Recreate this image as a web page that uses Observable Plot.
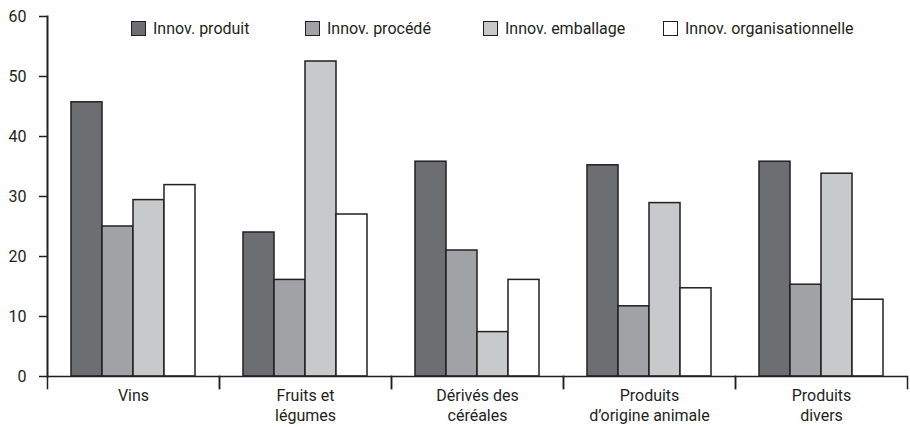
<!DOCTYPE html>
<html>
<head>
<meta charset="utf-8">
<script src="https://cdn.jsdelivr.net/npm/d3@7"></script>
<script src="https://cdn.jsdelivr.net/npm/@observablehq/plot@0.6"></script>
<style>
  html, body { margin: 0; padding: 0; background: #fff; }
  #wrap { position: relative; width: 910px; height: 427px; font-family: Roboto, "Open Sans", sans-serif; color: #231f20; }
  #legend { position: absolute; top: 19px; left: 131px; display: flex; font-size: 16px; }
  .item { display: flex; align-items: center; height: 19px; }
  .sw { width: 13px; height: 13px; border: 1.5px solid #231f20; margin-right: 7px; box-sizing: content-box; }
</style>
</head>
<body>
<div id="wrap"><div id="legend"></div></div>
<script>
const categories = ["Vins", "Fruits et légumes", "Dérivés des céréales", "Produits d’origine animale", "Produits divers"];
const categoryLabels = ["Vins", "Fruits et\nlégumes", "Dérivés des\ncéréales", "Produits\nd’origine animale", "Produits\ndivers"];
const series = ["Innov. produit", "Innov. procédé", "Innov. emballage", "Innov. organisationnelle"];
const produit = [45.7, 24.0, 35.8, 35.2, 35.8];
const procede = [25.0, 16.1, 21.0, 11.7, 15.3];
const emballage = [29.4, 52.5, 7.4, 28.9, 33.8];
const organisationnelle = [31.9, 27.0, 16.1, 14.7, 12.8];
const colors = ["#6d6e71", "#a1a2a5", "#c8c9cb", "#ffffff"];
const yTicks = [0, 10, 20, 30, 40, 50, 60];
const legendWidths = [174, 178, 180, 220];

const valuesBySeries = [produit, procede, emballage, organisationnelle];
const data = [];
categories.forEach((c, i) => series.forEach((s, j) => data.push({category: c, series: s, value: valuesBySeries[j][i]})));
const labelOf = new Map(categories.map((c, i) => [c, categoryLabels[i]]));
const ink = "#231f20";

const chart = Plot.plot({
  width: 910,
  height: 427,
  marginLeft: 46,
  marginRight: 2,
  marginTop: 16,
  marginBottom: 51,
  style: {fontFamily: "Roboto, 'Open Sans', sans-serif", fontSize: "16px", color: ink, background: "white"},
  fx: {domain: categories, padding: 0, axis: null, label: null},
  x: {domain: series, paddingInner: 0, paddingOuter: 0.7, axis: null},
  y: {domain: [0, 60], axis: null},
  color: {domain: series, range: colors},
  marks: [
    Plot.axisY({ticks: yTicks, tickSize: 8, tickPadding: 13, fontSize: 16, label: null, strokeWidth: 1.5, facetAnchor: "left"}),
    Plot.frame({anchor: "left", facetAnchor: "left", stroke: ink, strokeWidth: 2}),
    Plot.barY(data, {fx: "category", x: "series", y: "value", fill: "series", stroke: ink, strokeWidth: 1.5}),
    Plot.ruleY([0], {stroke: ink, strokeWidth: 1.5}),
    Plot.frame({anchor: "left", insetTop: 360, insetBottom: -12, stroke: ink, strokeWidth: 1.5}),
    Plot.frame({anchor: "right", insetTop: 360, insetBottom: -12, stroke: ink, strokeWidth: 1.5}),
    Plot.axisFx({anchor: "bottom", tickSize: 0, tickPadding: 10, tickFormat: d => labelOf.get(d), lineHeight: 1.25, fontSize: 16, label: null})
  ]
});
document.getElementById("wrap").prepend(chart);

const legend = document.getElementById("legend");
series.forEach((s, j) => {
  const it = document.createElement("div");
  it.className = "item";
  it.style.width = legendWidths[j] + "px";
  const sw = document.createElement("div");
  sw.className = "sw";
  sw.style.background = colors[j];
  const t = document.createElement("span");
  t.textContent = s;
  it.append(sw, t);
  legend.append(it);
});
</script>
</body>
</html>
